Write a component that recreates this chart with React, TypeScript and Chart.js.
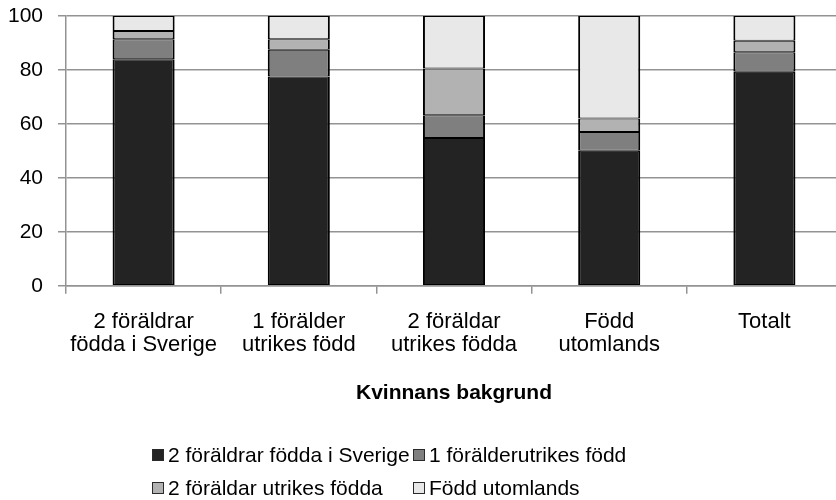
import React, { useEffect, useRef } from "react";
import { Chart, registerables } from "chart.js";

Chart.register(...registerables);

const categories: string[][] = [
  ["2 föräldrar", "födda i Sverige"],
  ["1 förälder", "utrikes född"],
  ["2 föräldar", "utrikes födda"],
  ["Född", "utomlands"],
  ["Totalt"],
];
const seriesNames = [
  "2 föräldrar födda i Sverige",
  "1 förälderutrikes född",
  "2 föräldar utrikes födda",
  "Född utomlands",
];
const bothParentsSweden = [84, 77.6, 54.8, 50, 79.3];
const oneParentForeign = [7.4, 9.9, 8.4, 7, 7.3];
const twoParentsForeign = [3, 3.9, 17.3, 5, 4.2];
const bornAbroad = [5.6, 8.6, 19.5, 38, 9.2];
const yMin = 0;
const yMax = 100;
const yStep = 20;
const axisTitle = "Kvinnans bakgrund";

const seriesColors = ["#232323", "#7f7f7f", "#b2b2b2", "#e8e8e8"];
const FONT = "'Liberation Sans', Arial, sans-serif";
const GRID = "#939393";

const gridLegend = {
  id: "gridLegend",
  afterDraw(chart: any) {
    const ctx = chart.ctx as CanvasRenderingContext2D;
    const cols = [152, 413];
    const rows = [455, 488];
    chart.data.datasets.forEach((ds: any, i: number) => {
      const x = cols[i % 2];
      const y = rows[Math.floor(i / 2)];
      ctx.save();
      ctx.fillStyle = ds.backgroundColor;
      ctx.fillRect(x, y - 6, 12, 12);
      ctx.strokeStyle = "#2a2a2a";
      ctx.lineWidth = 1;
      ctx.strokeRect(x + 0.5, y - 5.5, 11, 11);
      ctx.fillStyle = "#000";
      ctx.font = `21px ${FONT}`;
      ctx.textBaseline = "middle";
      ctx.textAlign = "left";
      ctx.fillText(ds.label, x + 16, y + 1);
      ctx.restore();
    });
  },
};

export default function App() {
  const ref = useRef<HTMLCanvasElement | null>(null);

  useEffect(() => {
    if (!ref.current) return;
    const series = [bothParentsSweden, oneParentForeign, twoParentsForeign, bornAbroad];
    const chart = new Chart(ref.current, {
      type: "bar",
      data: {
        labels: categories as any,
        datasets: series.map((d, i) => ({
          label: seriesNames[i],
          data: d,
          backgroundColor: seriesColors[i],
          borderColor: "#000",
          borderWidth: { top: 1, bottom: 1, left: 2, right: 2 },
          borderSkipped: false,
          barPercentage: 0.4,
          categoryPercentage: 1,
        })),
      },
      options: {
        responsive: false,
        animation: false,
        layout: { padding: { top: 16, left: 0, right: 0, bottom: 94 } },
        plugins: {
          legend: { display: false },
          tooltip: { enabled: false },
        },
        scales: {
          x: {
            stacked: true,
            grid: {
              drawOnChartArea: false,
              drawTicks: true,
              tickLength: 8,
              color: GRID,
              lineWidth: 1.5,
            },
            border: { color: GRID, width: 1.5 },
            ticks: {
              color: "#000",
              padding: 16,
              font: { family: FONT, size: 22, lineHeight: 1.07 },
              maxRotation: 0,
              autoSkip: false,
            },
            title: {
              display: true,
              text: axisTitle,
              color: "#000",
              font: { family: FONT, size: 21, weight: "bold" },
              padding: { top: 8, bottom: 0 },
            },
          },
          y: {
            stacked: true,
            min: yMin,
            max: yMax,
            afterFit: (scale: any) => {
              scale.width = 66;
              scale.paddingTop = 0;
              scale.paddingBottom = 0;
            },
            grid: {
              color: GRID,
              lineWidth: 1.5,
              tickLength: 8,
            },
            border: { color: GRID, width: 1.5 },
            ticks: {
              stepSize: yStep,
              color: "#000",
              padding: 15,
              font: { family: FONT, size: 21 },
            },
          },
        },
      },
      plugins: [gridLegend],
    });
    return () => chart.destroy();
  }, []);

  return (
    <div
      style={{
        position: "fixed",
        left: 0,
        top: 0,
        width: 836,
        height: 500,
        overflow: "hidden",
        background: "#fff",
      }}
    >
      <canvas ref={ref} width={842} height={500} style={{ width: 842, height: 500, display: "block" }} />
    </div>
  );
}
